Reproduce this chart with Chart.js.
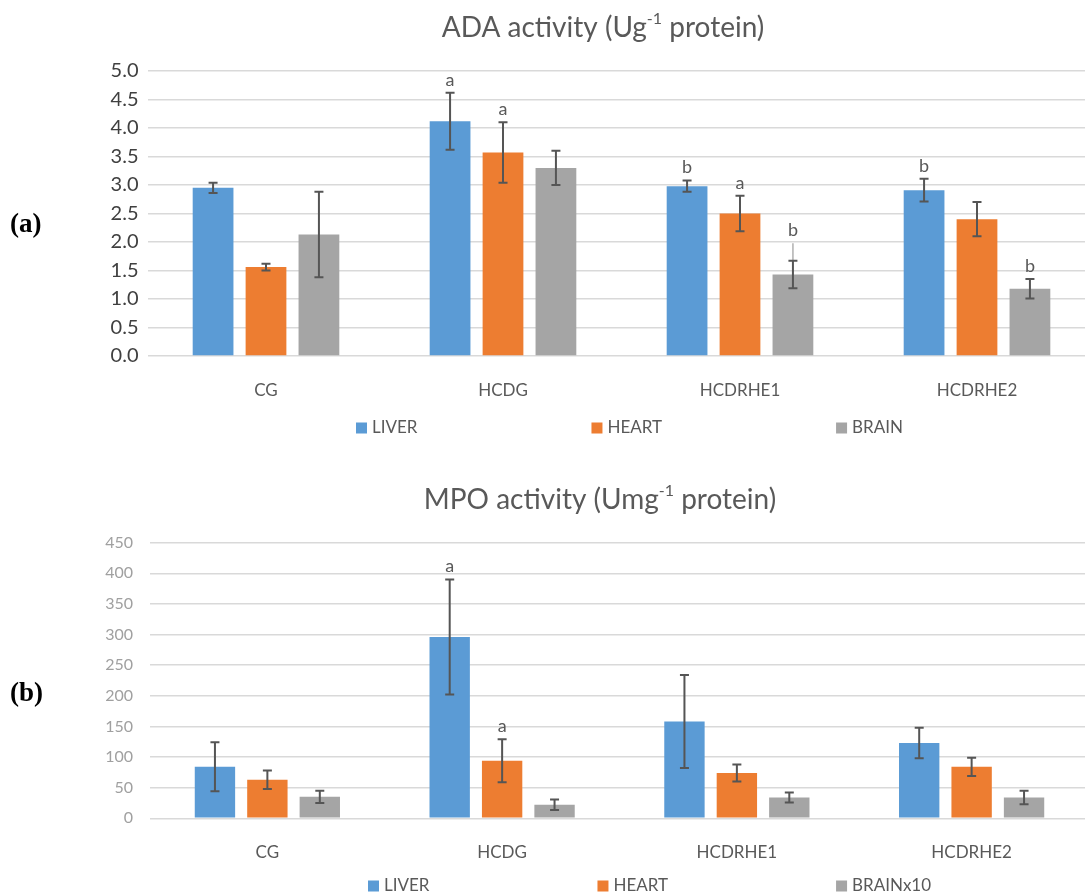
<!DOCTYPE html>
<html>
<head>
<meta charset="utf-8">
<script src="https://cdn.jsdelivr.net/npm/chart.js@4.4.1/dist/chart.umd.min.js"></script>
<style>
  html, body { margin: 0; padding: 0; background: #fff; overflow: hidden; }
  body { width: 1085px; height: 893px; position: relative; }
  .panel { position: absolute; left: 0; width: 1100px; }
  #panelA { top: 0; height: 460px; }
  #panelB { top: 460px; height: 433px; }
  .tag { position: absolute; left: 10px; font: bold 27px "Liberation Serif", serif; color: #000; }
</style>
</head>
<body>
<div class="panel" id="panelA"><canvas id="adaChart"></canvas></div>
<div class="panel" id="panelB"><canvas id="mpoChart"></canvas></div>
<div class="tag" style="top:208px">(a)</div>
<div class="tag" style="top:677px">(b)</div>
<script>
const groups = ['CG', 'HCDG', 'HCDRHE1', 'HCDRHE2'];

// ADA activity (U/g protein)
const adaLiver = [2.95, 4.12, 2.98, 2.91];
const adaLiverErr = [0.09, 0.50, 0.10, 0.20];
const adaHeart = [1.56, 3.57, 2.50, 2.40];
const adaHeartErr = [0.06, 0.53, 0.31, 0.30];
const adaBrain = [2.13, 3.30, 1.43, 1.18];
const adaBrainErr = [0.75, 0.30, 0.24, 0.17];
const adaBrainFaint = [null, null, 1.98, null];
const adaLiverMarks = ['', 'a', 'b', 'b'];
const adaHeartMarks = ['', 'a', 'a', ''];
const adaBrainMarks = ['', '', 'b', 'b'];

// MPO activity (U/mg protein)
const mpoLiver = [84, 296, 158, 123];
const mpoLiverErr = [40, 94, 76, 25];
const mpoHeart = [63, 94, 74, 84];
const mpoHeartErr = [15, 35, 14, 15];
const mpoBrain = [35, 22, 34, 34];
const mpoBrainErr = [10, 8.5, 8, 11];
const mpoLiverMarks = ['', 'a', '', ''];
const mpoHeartMarks = ['', 'a', '', ''];

const BLUE = '#5b9bd5';
const ORANGE = '#ed7d31';
const GREY = '#a5a5a5';
const TEXT = '#595959';

Chart.defaults.font.family = 'Lato';

// error bars, significance letters, title and legend
const decor = {
    id: 'decor',
    afterDatasetsDraw(chart, args, opts) {
        const {ctx} = chart;
        const y = chart.scales.y;
        ctx.save();
        chart.data.datasets.forEach((ds, i) => {
            chart.getDatasetMeta(i).data.forEach((bar, j) => {
                const v = ds.data[j];
                const e = ds.errors[j];
                const top = y.getPixelForValue(v + e);
                const bot = y.getPixelForValue(v - e);
                let markAt = top;
                if (ds.faint && ds.faint[j] != null) {
                    const f = y.getPixelForValue(ds.faint[j]);
                    ctx.strokeStyle = '#b0b0b0';
                    ctx.lineWidth = 1.5;
                    ctx.beginPath();
                    ctx.moveTo(bar.x, top);
                    ctx.lineTo(bar.x, f);
                    ctx.stroke();
                    markAt = f;
                }
                ctx.strokeStyle = '#555555';
                ctx.lineWidth = 2;
                ctx.beginPath();
                ctx.moveTo(bar.x, top);
                ctx.lineTo(bar.x, bot);
                ctx.moveTo(bar.x - 4.5, top);
                ctx.lineTo(bar.x + 4.5, top);
                ctx.moveTo(bar.x - 4.5, bot);
                ctx.lineTo(bar.x + 4.5, bot);
                ctx.stroke();
                const mark = ds.marks ? ds.marks[j] : '';
                if (mark) {
                    ctx.fillStyle = TEXT;
                    ctx.font = '18px Lato';
                    ctx.textAlign = 'center';
                    ctx.textBaseline = 'alphabetic';
                    ctx.fillText(mark, bar.x, markAt - 7);
                }
            });
        });
        ctx.restore();
    },
    afterDraw(chart, args, opts) {
        const {ctx} = chart;
        ctx.save();
        ctx.fillStyle = TEXT;
        ctx.textBaseline = 'middle';
        ctx.textAlign = 'left';
        // title with superscript
        const main = '28px Lato';
        const sup = '16px Lato';
        let w = 0;
        opts.title.forEach((p) => {
            ctx.font = p.sup ? sup : main;
            w += ctx.measureText(p.t).width;
        });
        let x = opts.titleX - w / 2;
        opts.title.forEach((p) => {
            ctx.font = p.sup ? sup : main;
            ctx.fillText(p.t, x, p.sup ? opts.titleY - 9 : opts.titleY);
            x += ctx.measureText(p.t).width;
        });
        // legend
        ctx.font = '17px Lato';
        x = opts.legendX;
        chart.data.datasets.forEach((ds) => {
            ctx.fillStyle = ds.backgroundColor;
            ctx.fillRect(x, opts.legendY - 5.5, 11, 11);
            ctx.fillStyle = TEXT;
            ctx.fillText(ds.label, x + 16, opts.legendY);
            x += 16 + ctx.measureText(ds.label).width + opts.legendGap;
        });
        ctx.restore();
    },
};

function makeChart(id, sets, cfg) {
    return new Chart(document.getElementById(id), {
        type: 'bar',
        data: {
            labels: groups,
            datasets: sets.map((s) => ({
                label: s.label,
                data: s.data,
                errors: s.errors,
                marks: s.marks,
                faint: s.faint,
                backgroundColor: s.color,
                barPercentage: 0.77,
                categoryPercentage: 0.67,
            })),
        },
        plugins: [decor],
        options: {
            responsive: true,
            maintainAspectRatio: false,
            animation: false,
            layout: {padding: cfg.padding},
            plugins: {
                legend: {display: false},
                tooltip: {enabled: false},
                decor: cfg.decor,
            },
            scales: {
                x: {
                    grid: {display: false},
                    border: {display: false},
                    ticks: {
                        color: TEXT,
                        font: {size: 17},
                        padding: cfg.xPad,
                    },
                    afterFit(scale) {
                        scale.height = 40;
                    },
                },
                y: {
                    min: 0,
                    max: cfg.max,
                    border: {display: false},
                    grid: {color: '#d9d9d9', lineWidth: 1.5, drawTicks: false},
                    ticks: {
                        stepSize: cfg.step,
                        color: cfg.tickColor,
                        font: {size: cfg.tickSize},
                        padding: cfg.yPad,
                        callback: cfg.fmt,
                    },
                    afterFit(scale) {
                        scale.width = cfg.left;
                    },
                },
            },
        },
    });
}

makeChart('adaChart', [
    {label: 'LIVER', data: adaLiver, errors: adaLiverErr, marks: adaLiverMarks, color: BLUE},
    {label: 'HEART', data: adaHeart, errors: adaHeartErr, marks: adaHeartMarks, color: ORANGE},
    {label: 'BRAIN', data: adaBrain, errors: adaBrainErr, marks: adaBrainMarks, faint: adaBrainFaint, color: GREY},
], {
    padding: {top: 71, right: 4.5, bottom: 64, left: 0},
    left: 147.5,
    max: 5,
    step: 0.5,
    fmt: (v) => v.toFixed(1),
    tickColor: '#404040',
    tickSize: 20,
    yPad: 9,
    xPad: 16,
    decor: {
        title: [{t: 'ADA activity (Ug'}, {t: '-1', sup: true}, {t: ' protein)'}],
        titleX: 603,
        titleY: 28,
        legendX: 356,
        legendY: 428,
        legendGap: 174,
    },
});

makeChart('mpoChart', [
    {label: 'LIVER', data: mpoLiver, errors: mpoLiverErr, marks: mpoLiverMarks, color: BLUE},
    {label: 'HEART', data: mpoHeart, errors: mpoHeartErr, marks: mpoHeartMarks, color: ORANGE},
    {label: 'BRAINx10', data: mpoBrain, errors: mpoBrainErr, color: GREY},
], {
    padding: {top: 82.7, right: 11, bottom: 34.7, left: 0},
    left: 150,
    max: 450,
    step: 50,
    fmt: (v) => String(v),
    tickColor: '#a0a0a0',
    tickSize: 16,
    yPad: 17,
    xPad: 16,
    decor: {
        title: [{t: 'MPO activity (Umg'}, {t: '-1', sup: true}, {t: ' protein)'}],
        titleX: 600,
        titleY: 40,
        legendX: 368,
        legendY: 426,
        legendGap: 168,
    },
});
</script>
</body>
</html>
